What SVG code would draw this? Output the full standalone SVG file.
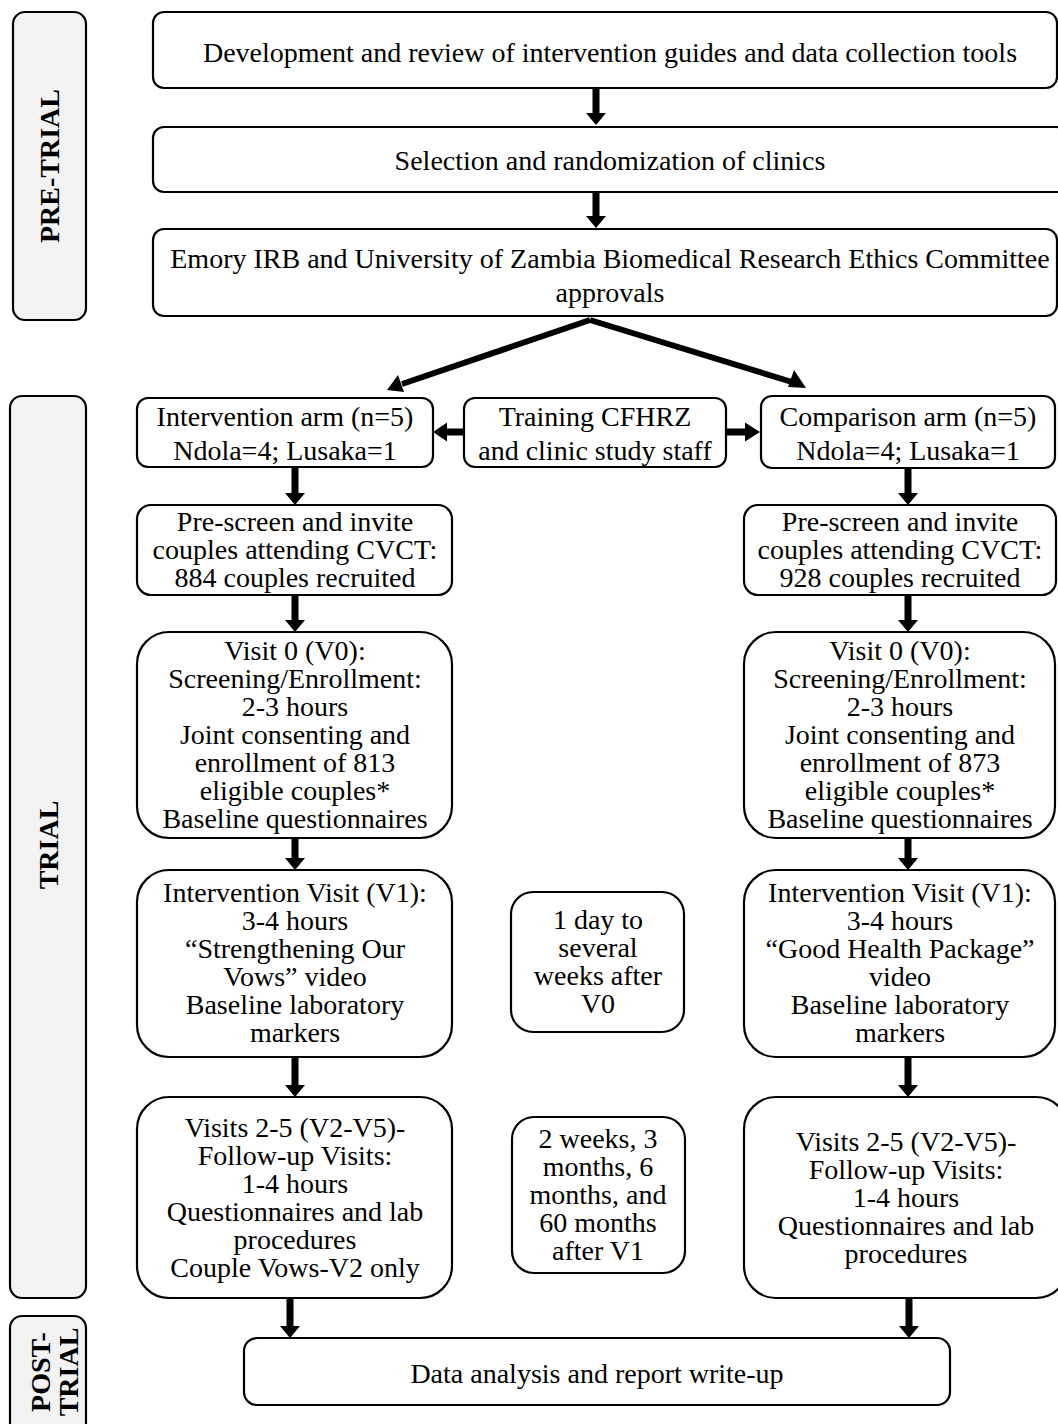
<svg xmlns="http://www.w3.org/2000/svg" width="1058" height="1424" viewBox="0 0 1058 1424">
<style>
.box{fill:#fff;stroke:#000;stroke-width:2.2}
.lab{fill:#f2f2f2;stroke:#000;stroke-width:2.2}
text{font-family:"Liberation Serif","Times New Roman",serif;font-size:28px;fill:#000;text-anchor:middle;dominant-baseline:central}
.b{font-weight:bold}
.ar{fill:#000}
.dl{stroke:#000;stroke-width:6;fill:none}
</style>
<rect width="1058" height="1424" fill="#fff"/>
<g id="label-pretrial"><rect class="lab" x="13" y="12" width="73" height="308" rx="12"/><text class="b" transform="translate(49,166) rotate(-90)">PRE-TRIAL</text></g>
<g id="label-trial"><rect class="lab" x="10" y="396" width="76" height="902" rx="12"/><text class="b" transform="translate(48,845) rotate(-90)">TRIAL</text></g>
<g id="label-posttrial"><rect class="lab" x="10" y="1316" width="76" height="130" rx="12"/><text class="b" transform="translate(40,1372) rotate(-90)">POST-</text><text class="b" transform="translate(68,1372) rotate(-90)">TRIAL</text></g>

<g id="n1"><rect class="box" x="153" y="12" width="904" height="76" rx="11"/><text x="610" y="52">Development and review of intervention guides and data collection tools</text></g>
<g id="n2"><rect class="box" x="153" y="127" width="915" height="65" rx="11"/><text x="610" y="160">Selection and randomization of clinics</text></g>
<g id="n3"><rect class="box" x="153" y="229" width="904" height="87" rx="11"/><text x="610" y="258">Emory IRB and University of Zambia Biomedical Research Ethics Committee</text><text x="610" y="292">approvals</text></g>

<g id="n-int-arm"><rect class="box" x="137" y="398" width="296" height="69" rx="11"/><text x="285" y="416">Intervention arm (n=5)</text><text x="285" y="450">Ndola=4; Lusaka=1</text></g>
<g id="n-training"><rect class="box" x="464" y="398" width="262" height="69" rx="11"/><text x="595" y="416">Training CFHRZ</text><text x="595" y="450">and clinic study staff</text></g>
<g id="n-comp-arm"><rect class="box" x="761" y="396" width="294" height="72" rx="11"/><text x="908" y="416">Comparison arm (n=5)</text><text x="908" y="450">Ndola=4; Lusaka=1</text></g>

<g id="n-prescreen-l"><rect class="box" x="137" y="505" width="315" height="90" rx="14"/><text x="295" y="521">Pre-screen and invite</text><text x="295" y="549">couples attending CVCT:</text><text x="295" y="577">884 couples recruited</text></g>
<g id="n-prescreen-r"><rect class="box" x="744" y="505" width="312" height="90" rx="14"/><text x="900" y="521">Pre-screen and invite</text><text x="900" y="549">couples attending CVCT:</text><text x="900" y="577">928 couples recruited</text></g>

<g id="n-v0-l"><rect class="box" x="137" y="632" width="315" height="206" rx="32"/><text x="295" y="650">Visit 0 (V0):</text><text x="295" y="678">Screening/Enrollment:</text><text x="295" y="706">2-3 hours</text><text x="295" y="734">Joint consenting and</text><text x="295" y="762">enrollment of 813</text><text x="295" y="790">eligible couples*</text><text x="295" y="818">Baseline questionnaires</text></g>
<g id="n-v0-r"><rect class="box" x="744" y="632" width="311" height="206" rx="32"/><text x="900" y="650">Visit 0 (V0):</text><text x="900" y="678">Screening/Enrollment:</text><text x="900" y="706">2-3 hours</text><text x="900" y="734">Joint consenting and</text><text x="900" y="762">enrollment of 873</text><text x="900" y="790">eligible couples*</text><text x="900" y="818">Baseline questionnaires</text></g>

<g id="n-v1-l"><rect class="box" x="137" y="870" width="315" height="187" rx="32"/><text x="295" y="892">Intervention Visit (V1):</text><text x="295" y="920">3-4 hours</text><text x="295" y="948">“Strengthening Our</text><text x="295" y="976">Vows” video</text><text x="295" y="1004">Baseline laboratory</text><text x="295" y="1032">markers</text></g>
<g id="n-gap1"><rect class="box" x="511" y="892" width="173" height="140" rx="22"/><text x="598" y="919">1 day to</text><text x="598" y="947">several</text><text x="598" y="975">weeks after</text><text x="598" y="1003">V0</text></g>
<g id="n-v1-r"><rect class="box" x="744" y="870" width="311" height="187" rx="32"/><text x="900" y="892">Intervention Visit (V1):</text><text x="900" y="920">3-4 hours</text><text x="900" y="948">“Good Health Package”</text><text x="900" y="976">video</text><text x="900" y="1004">Baseline laboratory</text><text x="900" y="1032">markers</text></g>

<g id="n-v25-l"><rect class="box" x="137" y="1097" width="315" height="201" rx="32"/><text x="295" y="1127">Visits 2-5 (V2-V5)-</text><text x="295" y="1155">Follow-up Visits:</text><text x="295" y="1183">1-4 hours</text><text x="295" y="1211">Questionnaires and lab</text><text x="295" y="1239">procedures</text><text x="295" y="1267">Couple Vows-V2 only</text></g>
<g id="n-gap2"><rect class="box" x="512" y="1117" width="173" height="156" rx="22"/><text x="598" y="1138">2 weeks, 3</text><text x="598" y="1166">months, 6</text><text x="598" y="1194">months, and</text><text x="598" y="1222">60 months</text><text x="598" y="1250">after V1</text></g>
<g id="n-v25-r"><rect class="box" x="744" y="1097" width="324" height="201" rx="32"/><text x="906" y="1141">Visits 2-5 (V2-V5)-</text><text x="906" y="1169">Follow-up Visits:</text><text x="906" y="1197">1-4 hours</text><text x="906" y="1225">Questionnaires and lab</text><text x="906" y="1253">procedures</text></g>

<g id="n-data"><rect class="box" x="244" y="1338" width="706" height="67" rx="13"/><text x="597" y="1373">Data analysis and report write-up</text></g>

<g id="connectors">
<path class="ar" d="M592.5 88h7v25h6.5l-10 12-10-12h6.5z"/>
<path class="ar" d="M592.5 192h7v24h6.5l-10 12-10-12h6.5z"/>
<line class="dl" x1="590" y1="320" x2="402" y2="384"/>
<path class="ar" d="M387 390l11-15 6 17z"/>
<line class="dl" x1="590" y1="320" x2="792" y2="382"/>
<path class="ar" d="M806 388l-18-1 6-17z"/>
<path class="ar" d="M463 428.5v7h-16v6l-14-9.5 14-9.5v6z"/>
<path class="ar" d="M727 428.5v7h18v6l15-9.5-15-9.5v6z"/>
<path class="ar" d="M291.5 467h7v26h6.5l-10 12-10-12h6.5z"/>
<path class="ar" d="M291.5 595h7v25h6.5l-10 12-10-12h6.5z"/>
<path class="ar" d="M291.5 838h7v20h6.5l-10 12-10-12h6.5z"/>
<path class="ar" d="M291.5 1057h7v28h6.5l-10 12-10-12h6.5z"/>
<path class="ar" d="M286.5 1298h7v28h6.5l-10 12-10-12h6.5z"/>
<path class="ar" d="M904.5 468h7v25h6.5l-10 12-10-12h6.5z"/>
<path class="ar" d="M904.5 595h7v25h6.5l-10 12-10-12h6.5z"/>
<path class="ar" d="M904.5 838h7v20h6.5l-10 12-10-12h6.5z"/>
<path class="ar" d="M904.5 1057h7v28h6.5l-10 12-10-12h6.5z"/>
<path class="ar" d="M905.5 1298h7v28h6.5l-10 12-10-12h6.5z"/>
</g>
</svg>
